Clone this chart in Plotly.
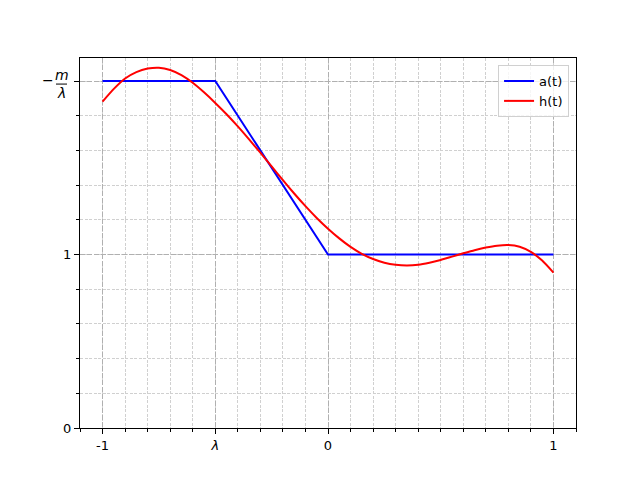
import plotly.graph_objects as go

# blue piecewise-linear a(t)
a_t = [-1.0, -0.5, 0.0, 1.0]
a_v = [2.0, 2.0, 1.0, 1.0]

# red smooth h(t)
h_t = [-1.0, -0.95, -0.9, -0.85, -0.8, -0.75, -0.7, -0.65, -0.6, -0.55, -0.5,
       -0.45, -0.4, -0.35, -0.3, -0.25, -0.2, -0.15, -0.1, -0.05, 0.0,
       0.05, 0.1, 0.15, 0.2, 0.25, 0.3, 0.35, 0.4, 0.45, 0.5,
       0.55, 0.6, 0.65, 0.7, 0.75, 0.8, 0.85, 0.9, 0.95, 1.0]
h_v = [1.882, 1.955, 2.015, 2.052, 2.072, 2.077, 2.064, 2.034, 1.990, 1.935, 1.874,
       1.809, 1.739, 1.664, 1.587, 1.508, 1.429, 1.352, 1.279, 1.211, 1.149,
       1.093, 1.044, 1.004, 0.974, 0.953, 0.941, 0.937, 0.941, 0.953, 0.969,
       0.988, 1.007, 1.025, 1.040, 1.051, 1.055, 1.045, 1.015, 0.965, 0.896]

x_tickvals = [-1, -0.5, 0, 1]
x_ticktext = ["-1", "<i>λ</i>", "0", "1"]
y_tickvals = [0, 1, 2]
y_ticktext = ["0", "1", " "]
x_minor = [round(-1.1 + 0.1 * i, 2) for i in range(23)]
y_minor = [round(0.2 * i, 2) for i in range(11)]

fig = go.Figure()
fig.add_trace(go.Scatter(x=a_t, y=a_v, mode="lines", name="a(t)",
                         line=dict(color="blue", width=2)))
fig.add_trace(go.Scatter(x=h_t, y=h_v, mode="lines", name="h(t)",
                         line=dict(color="red", width=2, shape="spline", smoothing=0.5)))

axis_common = dict(
    showline=True, linecolor="black", linewidth=1, mirror=True,
    ticks="outside", ticklen=5, tickcolor="black", tickwidth=1,
    showgrid=True, gridcolor="#b0b0b0", gridwidth=1, griddash="5px,2px",
    zeroline=False, tickfont=dict(family="DejaVu Sans", size=13, color="black"),
)

minor_common = dict(tickmode="array", ticks="outside", ticklen=3, tickcolor="black",
                    showgrid=True, gridcolor="#d0d0d0", gridwidth=0.6,
                    griddash="3px,1.5px")

fig.update_xaxes(range=[-1.1, 1.1], tickmode="array", tickvals=x_tickvals,
                 ticktext=x_ticktext, minor=dict(tickvals=x_minor, **minor_common),
                 **axis_common)
fig.update_yaxes(range=[0, 2.133], tickmode="array", tickvals=y_tickvals,
                 ticktext=y_ticktext, minor=dict(tickvals=y_minor, **minor_common),
                 **axis_common)

# stacked fraction label "-m/λ" at y = 2
fnt = dict(family="DejaVu Sans", size=14, color="black")
fig.add_annotation(x=0, y=2, xref="paper", yref="y", text="−", showarrow=False,
                   font=fnt, xanchor="center", yanchor="middle", xshift=-32, yshift=1)
fig.add_annotation(x=0, y=2, xref="paper", yref="y", text="<i>m</i>",
                   showarrow=False, font=fnt, xanchor="center", yanchor="bottom",
                   xshift=-18, yshift=-4)
fig.add_annotation(x=0, y=2, xref="paper", yref="y", text="<i>λ</i>",
                   showarrow=False, font=fnt, xanchor="center", yanchor="top",
                   xshift=-19, yshift=-2)
fig.add_shape(type="line", xref="paper", yref="y", x0=-24 / 496, x1=-13 / 496,
              y0=2 - 3 / 173.5, y1=2 - 3 / 173.5, line=dict(color="black", width=1))

fig.update_layout(
    width=640, height=480,
    margin=dict(l=72, r=72, t=50, b=60),
    paper_bgcolor="white", plot_bgcolor="white",
    showlegend=True,
    legend=dict(x=0.986, y=0.981, xanchor="right", yanchor="top",
                bgcolor="rgba(255,255,255,0.8)", bordercolor="#d0d0d0", borderwidth=1,
                font=dict(family="DejaVu Sans", size=13, color="black")),
)

fig.write_html("out.html")
